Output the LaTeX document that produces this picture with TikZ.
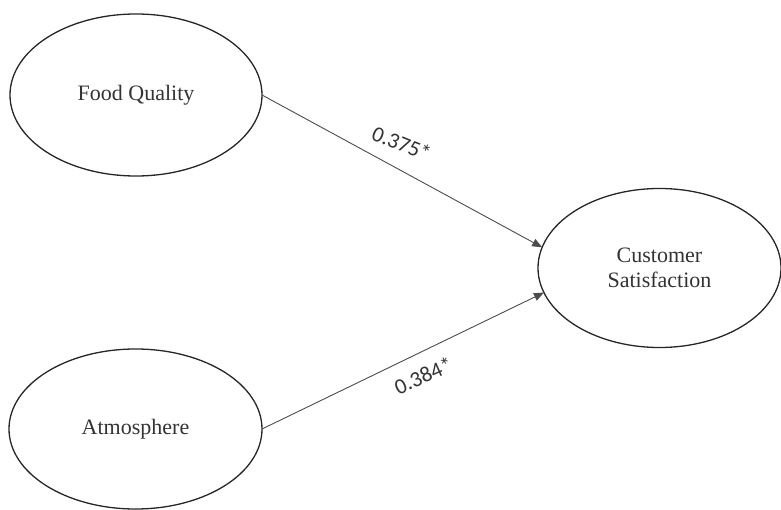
\documentclass[tikz,border=0pt]{standalone}
\usepackage{fontspec}
\setmainfont{Liberation Serif}
\newfontfamily\lblfont{Carlito}
\usetikzlibrary{shapes.geometric,arrows.meta}
\begin{document}
\begin{tikzpicture}[x=1pt,y=-1pt,
  construct/.style={ellipse,draw=black!85,line width=1.3pt,inner sep=0pt,outer sep=0pt,
    font=\fontsize{22}{25.5}\selectfont,align=center,text=black!80},
  path/.style={draw=black!70,line width=0.9pt,-{Triangle[length=10pt,width=8pt]}},
  coef/.style={font=\lblfont\fontsize{22}{24}\selectfont,text=black!80,inner sep=0pt}]
\useasboundingbox (0,0) rectangle (781,510);
\clip (0,0) rectangle (781,510);
\node[construct,minimum width=252pt,minimum height=162pt] (fq) at (136,95) {Food Quality};
\node[construct,minimum width=253pt,minimum height=160pt] (at) at (135.5,429) {Atmosphere};
\node[construct,minimum width=243pt,minimum height=159pt] (cs) at (659.5,268) {Customer\\Satisfaction};
\draw[path] (fq.east) -- (cs.170);
\draw[path] (at.east) -- (cs.192);
\node[coef,rotate=-22] (c1) at (401.7,143.3) {0.375*};
\node[coef,rotate=24] (c2) at (423.3,375.7) {0.384*};
\end{tikzpicture}
\end{document}
